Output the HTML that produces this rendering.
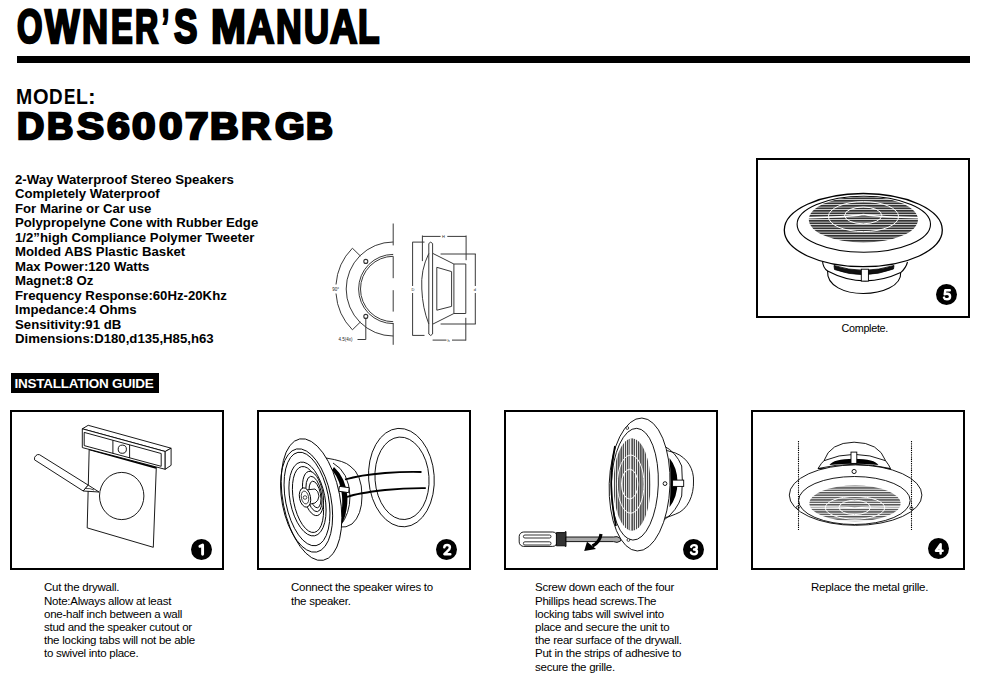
<!DOCTYPE html>
<html><head><meta charset="utf-8">
<style>
html,body{margin:0;padding:0;background:#fff;}
body{width:1000px;height:684px;position:relative;overflow:hidden;font-family:"Liberation Sans",sans-serif;color:#000;}
.abs{position:absolute;}
#title{left:0;top:-3px;width:400px;height:60px;}
#title span{position:absolute;top:0;font-weight:bold;font-size:48px;line-height:60px;white-space:nowrap;transform-origin:0 0;-webkit-text-stroke:2.6px #000;}
#rule{left:17px;top:56.4px;width:953px;height:6.2px;background:#000;}
#model{left:0;top:82.0px;width:400px;height:30px;}
#model span{position:absolute;top:0;font-weight:bold;font-size:21.6px;line-height:30px;white-space:nowrap;transform-origin:0 0;}
#modelno{left:0;top:102.4px;width:400px;height:50px;}
#modelno span{position:absolute;top:0;font-weight:bold;font-size:37px;line-height:50px;-webkit-text-stroke:2.4px #000;white-space:nowrap;transform-origin:0 0;}
#specs{left:15px;top:172.5px;font-weight:bold;font-size:13.2px;line-height:14.5px;white-space:nowrap;}
#guide{left:10.5px;top:373px;width:148.5px;height:19.5px;background:#000;color:#fff;font-weight:bold;font-size:13.5px;line-height:19.5px;white-space:nowrap;}
#guide span{position:absolute;left:4px;top:0.8px;letter-spacing:-0.25px;}
.box{position:absolute;box-sizing:border-box;border:2px solid #000;width:214px;height:159.5px;}
.num{position:absolute;width:21px;height:21px;border-radius:50%;background:#000;color:#fff;font-weight:bold;font-size:16px;line-height:21px;text-align:center;-webkit-text-stroke:0.7px #fff;}
.cap{position:absolute;font-size:11.5px;line-height:13.2px;white-space:nowrap;letter-spacing:-0.25px;}
svg{position:absolute;left:0;top:0;}
.numsvg{position:absolute;}
</style></head>
<body>
<div id="title" class="abs"><span style="left:17.12px;transform:scaleX(0.683)">O</span><span style="left:44.96px;transform:scaleX(0.762)">W</span><span style="left:81.70px;transform:scaleX(0.752)">N</span><span style="left:110.64px;transform:scaleX(0.680)">E</span><span style="left:134.66px;transform:scaleX(0.671)">R</span><span style="left:162.46px;transform:scaleX(0.540)">’</span><span style="left:173.80px;transform:scaleX(0.731)">S</span><span style="left:211.46px;transform:scaleX(0.872)">M</span><span style="left:247.00px;transform:scaleX(0.789)">A</span><span style="left:276.12px;transform:scaleX(0.742)">N</span><span style="left:303.95px;transform:scaleX(0.723)">U</span><span style="left:329.60px;transform:scaleX(0.789)">A</span><span style="left:358.13px;transform:scaleX(0.733)">L</span></div>
<div id="rule" class="abs"></div>
<div id="model" class="abs"><span style="left:16.30px;transform:scaleX(0.900)">M</span><span style="left:32.97px;transform:scaleX(0.927)">O</span><span style="left:49.13px;transform:scaleX(0.871)">D</span><span style="left:63.71px;transform:scaleX(0.792)">E</span><span style="left:75.70px;transform:scaleX(0.900)">L</span><span style="left:87.97px;transform:scaleX(1.067)">:</span></div>
<div id="modelno" class="abs"><span style="left:16.68px;transform:scaleX(1.020)">D</span><span style="left:47.32px;transform:scaleX(0.984)">B</span><span style="left:77.20px;transform:scaleX(1.096)">S</span><span style="left:107.20px;transform:scaleX(1.110)">6</span><span style="left:132.40px;transform:scaleX(1.140)">0</span><span style="left:158.80px;transform:scaleX(1.140)">0</span><span style="left:184.60px;transform:scaleX(1.140)">7</span><span style="left:210.43px;transform:scaleX(1.072)">B</span><span style="left:240.80px;transform:scaleX(1.100)">R</span><span style="left:275.20px;transform:scaleX(1.029)">G</span><span style="left:305.69px;transform:scaleX(1.008)">B</span></div>
<div id="specs" class="abs">2-Way Waterproof Stereo Speakers<br>Completely Waterproof<br>For Marine or Car use<br>Polypropelyne Cone with Rubber Edge<br>1/2”high Compliance Polymer Tweeter<br>Molded ABS Plastic Basket<br>Max Power:120 Watts<br>Magnet:8 Oz<br>Frequency Response:60Hz-20Khz<br>Impedance:4 Ohms<br>Sensitivity:91 dB<br>Dimensions:D180,d135,H85,h63</div>
<div id="guide" class="abs"><span>INSTALLATION GUIDE</span></div>

<svg width="1000" height="684" viewBox="0 0 1000 684">
<defs>
<pattern id="hstripe" patternUnits="userSpaceOnUse" width="6" height="2.5"><rect width="6" height="2.5" fill="#fff"/><rect y="0" width="6" height="1.8" fill="#333"/></pattern>
<pattern id="vstripe" patternUnits="userSpaceOnUse" width="2.2" height="6"><rect width="2.2" height="6" fill="#fff"/><rect x="0" width="1.4" height="6" fill="#444"/></pattern>
<pattern id="hstripe2" patternUnits="userSpaceOnUse" width="6" height="2.4"><rect width="6" height="2.4" fill="#fff"/><rect y="0" width="6" height="1.5" fill="#555"/></pattern>
</defs>
<!-- ===== dimension drawing ===== -->
<g fill="none" stroke="#3a3a3a" stroke-width="1">
  <!-- center line -->
  <path d="M393.2 223.5 V245.4 M393.2 256.3 V278.2 M393.2 290.2 V311.6 M393.2 323 V344.8"/>
  <!-- outer flange arc -->
  <path d="M393.2 242 A47 47 0 0 0 393.2 336"/>
  <!-- inner arcs -->
  <path d="M393.2 254.4 A34.6 34.6 0 0 0 393.2 323.6"/>
  <path d="M393.2 256.3 A32.7 32.7 0 0 0 393.2 321.7"/>
  <!-- 90 deg arc -->
  <path d="M352.4 248.2 A57.7 57.7 0 0 0 336 284.5 M336 293.5 A57.7 57.7 0 0 0 352.4 329.8"/>
  <path d="M352.4 248.2 L360.4 256 M352.4 329.8 L360.4 322"/>
  <!-- screw holes -->
  <circle cx="365.8" cy="261.4" r="2" stroke="#333" stroke-width="1.1"/>
  <circle cx="365.8" cy="316.4" r="2" stroke="#333" stroke-width="1.1"/>
  <path d="M365.8 318.6 V339.5 H357.5"/>
  <!-- side view -->
  <path d="M428.8 243.5 Q430.7 240.8 432.6 243.5 V334 Q430.7 337 428.8 334 Z"/>
  <path d="M428.8 253.5 Q420.5 270 421.8 289 Q422.5 308 428.8 324"/>
  <path d="M433 253.5 L453.9 264 H465.8 V313.5 H453.9 L433 324"/>
  <path d="M453.9 264 V313.5"/>
  <path d="M436.8 310.2 V267.3 L451.6 271.6 V306.4 Z"/>
  <!-- dims -->
  <path d="M422.4 236.4 H440.6 M447.3 236.4 H466.1 M422.4 235.5 V261.1 M466.1 235.5 V260.2"/>
  <path d="M412.4 242.1 H424.5 M412.6 242.1 V286 M412.6 293 V335.4 M412.4 335.4 H424.5"/>
  <path d="M440.6 254 H475.8 M475.3 254 V286 M475.3 293 V324 M440.6 324 H475.8"/>
  <path d="M432.6 340.1 H446.5 M452 340.1 H465.8 M465.8 317.8 V340.6"/>
</g>
<g font-family="Liberation Sans, sans-serif" font-size="4.5" fill="#222">
  <text x="332.3" y="290.8">90°</text>
  <text x="338.5" y="341.2">4.5(4x)</text>
  <text x="411.5" y="291" font-size="4">D</text>
  <text x="473.8" y="291" font-size="4">d</text>
  <text x="442" y="238" font-size="4">H</text>
  <text x="447.5" y="341.8" font-size="4">h</text>
</g>
<!-- ===== box5 complete ===== -->
<g stroke="#000" stroke-width="1.1" fill="#fff">
  <path d="M822.5 261 Q823 268 827.6 271 C826.5 286 845 293.5 863.3 293.5 C882 293.5 901.5 286 900.7 272.6 Q906 268 907.5 262"/>
  <path d="M827.6 271 Q863.3 290 900.7 272.6" fill="none"/>
  <path d="M834 265.5 Q863.3 275 894 265.5 L893.5 269 Q863.3 280 834.5 269.5 Z" fill="#111" stroke-width="0.8"/>
  <rect x="861.3" y="269.2" width="7.1" height="11.9" fill="#fff" stroke-width="0.9"/>
  <ellipse cx="863.3" cy="230.1" rx="79" ry="36.6" stroke-width="1.3"/>
    <ellipse cx="863.8" cy="224.2" rx="66.7" ry="28"/>
  <ellipse cx="863.4" cy="219.6" rx="54.6" ry="23" fill="url(#hstripe)" stroke="none"/>
  <g fill="none" stroke="#fff" stroke-width="1">
    <ellipse cx="863.5" cy="216.6" rx="35.1" ry="15"/>
    <ellipse cx="863.2" cy="215.4" rx="18.6" ry="8.4"/>
    <path d="M809 217.8 Q845 217.3 863.4 214.6 Q882 217.3 918 217.8" stroke-width="1.5"/>
  </g>
</g>

<!-- ===== box1 ===== -->
<g stroke="#000" stroke-width="0.9" fill="#fff" stroke-linejoin="round">
  <path d="M89.2 448.6 L156.3 467.3 L153.3 547.3 L87.2 527.9 Z"/>
  <path d="M89.5 449.5 L156 468" stroke-width="1.6"/>
  <ellipse cx="121.7" cy="496" rx="22.2" ry="23.6"/>
  <path d="M82.3 428.8 L88.2 425.3 L171.1 448.2 L165.2 451.5 Z"/>
  <path d="M82.3 428.8 L165.2 451.5 L165.2 469.3 L82.3 447.6 Z"/>
  <path d="M165.2 451.5 L171.1 448.2 L171.1 465.3 L165.2 469.3 Z"/>
  <path d="M84.2 432.4 L161.2 453.5 L161.2 466.3 L84.2 445.6 Z"/>
  <path d="M112.9 440.3 V453.5 M129.6 444.9 V458" fill="none"/>
  <circle cx="122.3" cy="449.2" r="4.1"/>
  <path d="M36 455.5 Q34 457 34.5 459.8 L83.2 491 L88.2 485.1 L39.5 454.7 Q37.5 454 36 455.5 Z"/>
  <path d="M83.2 491 L88.2 485.1 L99 492 Z"/>
  <path d="M85.5 488.5 Q90 488 94 490" fill="none" stroke-width="0.7"/>
</g>

<!-- ===== box2 ===== -->
<g stroke="#000" stroke-width="0.9" fill="#fff">
  <!-- cutout ring -->
  <ellipse cx="401.4" cy="477.6" rx="32.8" ry="49.3" transform="rotate(-4 401.4 477.6)"/>
  <ellipse cx="402" cy="478.3" rx="27" ry="41.3" transform="rotate(-4 402 478.3)"/>
  <!-- back body -->
  <path d="M326 458 Q345 461 350 466 Q362 474 362 496 Q362 515 352 524 Q346 528 340 527 Z"/>
  <path d="M333 463 Q349 472 350 496 Q350 514 340 526" fill="none"/>
  <path d="M334 467 Q346 478 347.5 497 Q347.5 512 343 522 L339.5 523 Q343 510 342 496 Q341 481 332 470 Z" fill="#000" stroke="none"/>
  <!-- wires -->
  <path d="M345 479.5 Q360 475 385 473 Q405 471.5 421.5 472" fill="none" stroke-width="1.8"/>
  <path d="M347 497 Q358 493 385 490 Q405 488 425.8 488.2" fill="none" stroke-width="1.8"/>
  <rect x="339" y="487" width="10" height="5" transform="rotate(8 344 489.5)"/>
  <!-- flange -->
  <ellipse cx="311.5" cy="499.6" rx="28.5" ry="61.8" transform="rotate(-11 311.5 499.6)"/>
  <g fill="none">
    <ellipse cx="306.6" cy="500.5" rx="24.5" ry="52.5" transform="rotate(-11 306.6 500.5)"/>
    <ellipse cx="307" cy="499" rx="21.5" ry="47.5" transform="rotate(-11 307 499)"/>
    <ellipse cx="307.5" cy="499" rx="17.5" ry="37.5" transform="rotate(-11 307.5 499)"/>
    <ellipse cx="308" cy="499.5" rx="14.5" ry="33.5" transform="rotate(-11 308 499.5)"/>
  </g>
  <!-- tweeter -->
  <ellipse cx="313" cy="493.5" rx="9.8" ry="22.5" transform="rotate(-11 313 493.5)"/>
  <ellipse cx="314" cy="494" rx="7.5" ry="18" transform="rotate(-11 314 494)" fill="none"/>
  <ellipse cx="315" cy="494.5" rx="5.5" ry="13.5" transform="rotate(-11 315 494.5)" fill="none"/>
  <path d="M306 490 L315 489 Q318.5 491 319 496 Q318.5 501 315 503 L306 505 Z"/>
  <ellipse cx="305" cy="497.5" rx="5.5" ry="9.8" transform="rotate(-11 305 497.5)"/>
  <ellipse cx="305" cy="497.5" rx="3.6" ry="6.5" transform="rotate(-11 305 497.5)" fill="none" stroke-width="0.7"/>
  <circle cx="305" cy="497.5" r="1.8" fill="none" stroke-width="0.7"/>
</g>

<!-- ===== box3 ===== -->
<g stroke="#000" stroke-width="0.9" fill="#fff">
  <!-- back body -->
  <path d="M660 450 Q668 450 675.4 453 C688 458 694 470 693.5 481 C694 495 688 510 675.4 514.2 Q668 518 660 518 Z"/>
  <path d="M664 446 Q676 452 681.7 466 Q683 481 681.7 496 Q677 511 664 520" fill="none"/>
  <path d="M669.5 457.9 Q677.5 468 677.5 482 Q677.5 497 669.5 507.2 Q671.5 482 669.5 457.9 Z" fill="#000" stroke="none"/>
  <rect x="672.6" y="480.1" width="11.1" height="6.3"/>
  <!-- flange -->
  <ellipse cx="639.6" cy="484.5" rx="30.4" ry="66.5" transform="rotate(2 639.6 484.5)"/>
  <ellipse cx="634.8" cy="484.2" rx="23.5" ry="55.9" transform="rotate(2 634.8 484.2)"/>
  <path d="M615 446 Q610.8 466 611.3 486 Q611.8 506 616 526" fill="none" stroke-width="1.7"/>
  <ellipse cx="632" cy="484.5" rx="18.6" ry="46.2" fill="url(#vstripe)" stroke="none"/>
  <g fill="none" stroke="#fff" stroke-width="1">
    <ellipse cx="630.7" cy="484.1" rx="13.3" ry="29.1"/>
    <ellipse cx="629.7" cy="484.1" rx="8.2" ry="14.9"/>
    <path d="M630.3 438.5 V530.5" stroke-width="1.1"/>
  </g>
  <circle cx="665" cy="483.6" r="1.9"/>
  <circle cx="627.3" cy="428" r="1.4" stroke-width="0.7"/>
  <circle cx="628.4" cy="540" r="1.4" stroke-width="0.7"/>
  <!-- screwdriver -->
  <rect x="519.2" y="532" width="38" height="14.4" rx="4.5"/>
  <rect x="523.4" y="535" width="27.6" height="3" rx="1.5" stroke-width="0.8"/>
  <rect x="523.4" y="541.8" width="27.6" height="3.2" rx="1.5" stroke-width="0.8"/>
  <path d="M556.4 532.6 H564.2 L566 531.5 V546.5 L564.2 545.8 H556.4 Z" fill="#333"/>
  <path d="M566 537 H613.5 Q617 535.5 620.6 538.5 Q621 540 620.6 541 Q617 543.5 613.5 541.6 H566 Z" fill="#aaa"/>
  <path d="M601 534 Q600 542 592.5 546" fill="none" stroke-width="3.2"/>
  <path d="M584.2 551 L587 541.8 L596 549 Z" fill="#000" stroke="none"/>
</g>

<!-- ===== box4 ===== -->
<g stroke="#000" stroke-width="0.9" fill="#fff">
  <!-- dome body -->
  <path d="M824 460.7 Q830 442.5 854.1 442.2 Q879 442.5 885.6 460.7 Z"/>
  <path d="M818 468.5 Q822 462 824 460.7 Q854 448 885.6 460.7 Q889 465 890.5 468.5 Z"/>
  <path d="M829.4 465 Q833 459 854.1 458.7 Q875 459 878.4 465 Q854 462.5 829.4 465 Z" fill="#000" stroke="none"/>
  <rect x="851" y="452.1" width="5.8" height="11.3"/>
  <!-- flange -->
  <ellipse cx="855.6" cy="495.1" rx="66.3" ry="30.2"/>
  <path d="M818 468.5 Q854 460 890.5 468.5" fill="none"/>
  <circle cx="854.1" cy="471.5" r="2.1"/>
  <ellipse cx="854.4" cy="500.5" rx="55.8" ry="24"/>
  <ellipse cx="855" cy="503.4" rx="45.7" ry="17.9" fill="url(#hstripe2)" stroke="none"/>
  <g fill="none" stroke="#fff" stroke-width="1">
    <ellipse cx="855" cy="507.8" rx="29.7" ry="11.3"/>
    <ellipse cx="854.7" cy="507.4" rx="15.7" ry="7.2"/>
    <path d="M809.5 506.9 Q840 506.7 854.7 507.8 Q870 506.7 900.5 506.9" stroke-width="1.2"/>
  </g>
  <circle cx="797.8" cy="507.5" r="1.5" stroke-width="0.8"/>
  <circle cx="911.4" cy="508.3" r="1.5" stroke-width="0.8"/>
  <path d="M798.5 441 V530 M911.5 441 V530" stroke-dasharray="1.3 0.9" stroke-width="1.1" fill="none"/>
</g>

</svg>

<div class="box" style="left:756px;top:158.3px;"></div>
<div class="box" style="left:9.5px;top:410px;"></div>
<div class="box" style="left:256.5px;top:410px;"></div>
<div class="box" style="left:503.5px;top:410px;"></div>
<div class="box" style="left:750.5px;top:410px;"></div>

<svg class="numsvg" style="left:935.6px;top:284.1px" width="21" height="21" viewBox="0 0 21 21"><circle cx="10.5" cy="10.5" r="10.5" fill="#000"/><g fill="none" stroke="#fff" stroke-linecap="round" stroke-linejoin="round"><path d="M13.8 6.2 H9.3 L8.7 10.4 Q9.6 9.7 11.1 9.7 Q14.1 9.7 14.1 12.5 Q14.1 15.3 11 15.3 Q8.6 15.3 8 13.6" stroke-width="2.4"/></g></svg>
<svg class="numsvg" style="left:927.5px;top:538.4px" width="21" height="21" viewBox="0 0 21 21"><circle cx="10.5" cy="10.5" r="10.5" fill="#000"/><g fill="none" stroke="#fff" stroke-linecap="round" stroke-linejoin="round"><path d="M12.6 15.4 V6.2 L8 12.7 H14.6" stroke-width="2.5"/></g></svg>
<svg class="numsvg" style="left:190.8px;top:538.5px" width="21" height="21" viewBox="0 0 21 21"><circle cx="10.5" cy="10.5" r="10.5" fill="#000"/><g fill="none" stroke="#fff" stroke-linecap="round" stroke-linejoin="round"><path d="M8.9 7.3 L11.6 6.1 V15.3" stroke-width="2.9"/></g></svg>
<svg class="numsvg" style="left:436.2px;top:538.5px" width="21" height="21" viewBox="0 0 21 21"><circle cx="10.5" cy="10.5" r="10.5" fill="#000"/><g fill="none" stroke="#fff" stroke-linecap="round" stroke-linejoin="round"><path d="M8.3 8.3 Q8.6 6.1 11.1 6.1 Q13.9 6.1 13.9 8.5 Q13.9 10.3 11.3 12.3 L8.4 15.2 H14.3" stroke-width="2.5"/></g></svg>
<svg class="numsvg" style="left:682.9px;top:538.5px" width="21" height="21" viewBox="0 0 21 21"><circle cx="10.5" cy="10.5" r="10.5" fill="#000"/><g fill="none" stroke="#fff" stroke-linecap="round" stroke-linejoin="round"><path d="M8.2 7.9 Q8.8 6.1 11.1 6.1 Q13.8 6.1 13.8 8.2 Q13.8 10.5 11 10.5 Q14 10.5 14 12.8 Q14 15.3 11.1 15.3 Q8.6 15.3 8 13.4" stroke-width="2.4"/></g></svg>

<div class="cap" style="left:841.5px;top:322px;font-size:10.8px;letter-spacing:-0.3px;">Complete.</div>
<div class="cap" style="left:44px;top:581.3px;">Cut the drywall.<br>Note:Always allow at least<br>one-half inch between a wall<br>stud and the speaker cutout or<br>the locking tabs will not be able<br>to swivel into place.</div>
<div class="cap" style="left:291px;top:581.3px;">Connect the speaker wires to<br>the speaker.</div>
<div class="cap" style="left:535px;top:581.3px;">Screw down each of the four<br>Phillips head screws.The<br>locking tabs will swivel into<br>place and secure the unit to<br>the rear surface of the drywall.<br>Put in the strips of adhesive to<br>secure the grille.</div>
<div class="cap" style="left:811px;top:581.3px;">Replace the metal grille.</div>

</body></html>
